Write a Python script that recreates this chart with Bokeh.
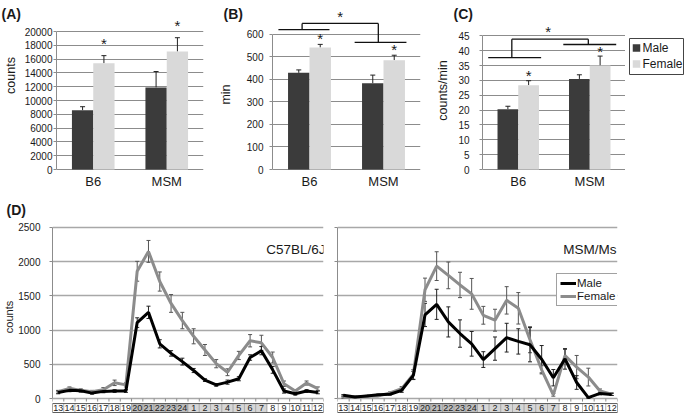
import math
from bokeh.plotting import figure
from bokeh.models import (Range1d, FactorRange, FixedTicker, Whisker, TeeHead,
                          Label, Legend, LegendItem, ColumnDataSource,
                          CustomJSTickFormatter)
from bokeh.layouts import column, row
from bokeh.embed import file_html
from bokeh.resources import INLINE
from bokeh.core.properties import value
from bokeh.transform import dodge

FONT = "Liberation Sans"
TXT = "#1a1a1a"
AX = "#8c8c8c"
MALE_BAR = "#3b3b3b"
FEMALE_BAR = "#d9d9d9"

# ---------------- data ----------------
groups = ["B6", "MSM"]
series = ["Male", "Female"]

a_male = [8600, 11900]
a_male_err = [500, 2300]
a_female = [15400, 17100]
a_female_err = [1100, 2000]
a_ticks = [0, 2000, 4000, 6000, 8000, 10000, 12000, 14000, 16000, 18000, 20000]

b_male = [428, 382]
b_male_err = [13, 36]
b_female = [540, 484]
b_female_err = [14, 22]
b_ticks = [0, 100, 200, 300, 400, 500, 600]

c_male = [20.3, 30.5]
c_male_err = [1.0, 1.4]
c_female = [28.4, 35.0]
c_female_err = [1.5, 3.2]
c_ticks = [0, 5, 10, 15, 20, 25, 30, 35, 40, 45]

hours = ["13", "14", "15", "16", "17", "18", "19", "20", "21", "22", "23", "24",
         "1", "2", "3", "4", "5", "6", "7", "8", "9", "10", "11", "12"]
d_ticks = [0, 500, 1000, 1500, 2000, 2500]

b6_male = [90, 120, 115, 80, 105, 110, 110, 1110, 1260, 800, 660, 540,
           410, 270, 200, 240, 290, 600, 700, 420, 110, 70, 110, 90]
b6_male_err = [20, 20, 20, 15, 20, 20, 20, 70, 90, 60, 40, 50,
               30, 20, 20, 30, 30, 40, 60, 50, 30, 20, 20, 20]
b6_female = [100, 150, 120, 100, 130, 230, 200, 1860, 2150, 1710, 1390, 1140,
             910, 710, 510, 385, 630, 845, 815, 600, 217, 111, 227, 145]
b6_female_err = [20, 20, 20, 20, 30, 40, 30, 145, 160, 140, 130, 120,
                 110, 80, 60, 50, 60, 90, 110, 80, 40, 20, 30, 25]

msm_male = [48, 24, 39, 55, 63, 121, 338, 1222, 1377, 1120, 950, 800,
            570, 730, 890, 835, 787, 575, 305, 580, 235, 15, 75, 60]
msm_male_err = [10, 10, 10, 10, 10, 30, 60, 170, 220, 220, 200, 180,
                115, 170, 210, 185, 250, 200, 120, 150, 100, 10, 20, 15]
msm_female = [15, 24, 34, 39, 82, 145, 353, 1590, 1935, 1800, 1660, 1530,
              1217, 1145, 1435, 1319, 860, 420, 55, 628, 460, 314, 110, 65]
msm_female_err = [10, 10, 10, 10, 15, 30, 70, 170, 210, 195, 185, 225,
                  130, 160, 200, 230, 190, 60, 20, 90, 170, 130, 30, 20]

# ---------------- geometry ----------------
TOP_H = 197             # top-row figures: frame covers the full height
ZERO_Y = 169            # pixel row of the zero line in the top row
BOT_H = 216


def bare(p):
    p.outline_line_color = None
    p.grid.visible = False


def pixel_fig(width):
    """top-row helper figure whose data units are screen pixels (y downwards)"""
    p = figure(width=width, height=TOP_H, x_range=Range1d(0, width),
               y_range=Range1d(TOP_H, 0), x_axis_location=None, y_axis_location=None,
               output_backend="svg", toolbar_location=None, min_border=0)
    bare(p)
    return p


def side_panel(width, letter, lx, ylabel, ycenter, fsize="12.5px"):
    p = pixel_fig(width)
    p.text(x=[lx], y=[5], text=[letter], text_font=value(FONT), text_font_size="14px",
           text_font_style="bold", text_color=TXT, text_align="left",
           text_baseline="top")
    p.text(x=[10], y=[ycenter], text=[ylabel], text_font=value(FONT),
           text_font_size=fsize, text_color=TXT, text_align="center",
           text_baseline="middle", angle=math.pi / 2)
    return p


def style_yaxis(p, ticks, standoff, tick_font="10px", labels=True):
    t = FixedTicker(ticks=ticks)
    p.yaxis.ticker = t
    p.ygrid.ticker = t
    p.yaxis.bounds = (ticks[0], ticks[-1])
    p.yaxis.axis_line_color = AX
    p.yaxis.major_tick_line_color = AX
    p.yaxis.major_tick_out = 3
    p.yaxis.major_tick_in = 0
    p.yaxis.minor_tick_line_color = None
    p.yaxis.major_label_text_font = FONT
    p.yaxis.major_label_text_font_size = tick_font
    p.yaxis.major_label_text_color = TXT
    p.yaxis.major_label_standoff = standoff
    if not labels:
        p.yaxis.formatter = CustomJSTickFormatter(code="return ''")


def axis_title(p, label, size, standoff):
    p.yaxis.axis_label = label
    p.yaxis.axis_label_text_font = FONT
    p.yaxis.axis_label_text_font_size = size
    p.yaxis.axis_label_text_font_style = "normal"
    p.yaxis.axis_label_text_color = TXT
    p.yaxis.axis_label_standoff = standoff


def bar_panel(male, male_err, female, female_err, ticks, px_top, width, bl, br,
              tick_standoff, star_pad, brackets=None, star_top=None, tick_labels=True):
    upp = ticks[-1] / px_top                      # data units per pixel
    p = figure(width=width, height=TOP_H, x_range=FactorRange(factors=groups),
               y_range=Range1d(-(TOP_H - ZERO_Y) * upp, ZERO_Y * upp),
               x_axis_location=None, output_backend="svg", toolbar_location=None,
               min_border_left=bl, min_border_right=br, min_border_top=0,
               min_border_bottom=0)
    p.outline_line_color = None
    p.xgrid.visible = False
    p.ygrid.grid_line_color = AX
    p.ygrid.grid_line_width = 1
    style_yaxis(p, ticks, tick_standoff, labels=tick_labels)

    src = ColumnDataSource(dict(
        g=groups, male=male, female=female,
        mu=[m + e for m, e in zip(male, male_err)],
        fu=[f + e for f, e in zip(female, female_err)],
        star=[f + e + star_pad * upp for f, e in zip(female, female_err)],
        s=["*"] * len(groups), ylab=[-11.5 * upp] * len(groups)))
    xm = dodge("g", -0.145, range=p.x_range)
    xf = dodge("g", 0.145, range=p.x_range)
    p.vbar(x=xm, top="male", width=0.29, source=src, fill_color=MALE_BAR, line_color=None)
    p.vbar(x=xf, top="female", width=0.29, source=src, fill_color=FEMALE_BAR, line_color=None)
    for base, lo, up in ((xm, "male", "mu"), (xf, "female", "fu")):
        p.add_layout(Whisker(base=base, lower=lo, upper=up, source=src, line_color="#222",
                             line_width=1, lower_head=None,
                             upper_head=TeeHead(size=5, line_color="#222", line_width=1)))
    p.text(x=xf, y="star", text="s", source=src, text_font=value(FONT),
           text_font_size="15px", text_align="center", text_baseline="middle",
           text_color=TXT)
    # category names under the zero line
    p.text(x="g", y="ylab", text="g", source=src, text_font=value(FONT),
           text_font_size="13px", text_align="center", text_baseline="middle",
           text_color=TXT)
    if brackets:
        bsrc = ColumnDataSource(dict(
            x0=[(b[0], b[1]) for b in brackets], y0=[b[2] for b in brackets],
            x1=[(b[3], b[4]) for b in brackets], y1=[b[5] for b in brackets]))
        p.segment(x0="x0", y0="y0", x1="x1", y1="y1", source=bsrc,
                  line_color="#111", line_width=1.3)
    if star_top:
        p.text(x=[star_top[0]], y=[star_top[1]], text=["*"], text_font=value(FONT),
               text_font_size="15px", text_align="center", text_baseline="middle",
               text_color=TXT)
    return p


# ---------------- top row ----------------
sA = side_panel(21, "(A)", 1, "counts", 75)
pA = bar_panel(a_male, a_male_err, a_female, a_female_err, a_ticks, 138,
               194, 33, 12, 1, 12)

sB = side_panel(28, "(B)", 8, "min", 94)
b_brackets = [("B6", -0.42, 619, "B6", 0.27, 619),
              ("B6", -0.10, 619, "B6", -0.10, 647),
              ("B6", -0.10, 647, "MSM", -0.07, 647),
              ("MSM", -0.07, 647, "MSM", -0.07, 563),
              ("MSM", -0.39, 563, "MSM", 0.31, 563)]
pB = bar_panel(b_male, b_male_err, b_female, b_female_err, b_ticks, 135.5,
               185, 27, 8, 6, 6, b_brackets, (("B6", 0.415), 677))

c_brackets = [("B6", -0.42, 37.7, "B6", 0.32, 37.7),
              ("B6", -0.09, 37.7, "B6", -0.09, 43.9),
              ("B6", -0.09, 43.9, "MSM", -0.02, 43.9),
              ("MSM", -0.02, 43.9, "MSM", -0.02, 42.1),
              ("MSM", -0.37, 42.1, "MSM", 0.37, 42.1)]
pC = bar_panel(c_male, c_male_err, c_female, c_female_err, c_ticks, 133.6,
               146, 3, 0, 0, 5, c_brackets, (("B6", 0.42), 46.4), tick_labels=False)

# panel C: letter, axis title and tick labels, sharing pC's y scale
SC_W = 51
c_upp = c_ticks[-1] / 133.6
sC = figure(width=SC_W, height=TOP_H, x_range=Range1d(0, SC_W), y_range=pC.y_range,
            x_axis_location=None, y_axis_location=None, output_backend="svg",
            toolbar_location=None, min_border=0)
bare(sC)
sC.text(x=[SC_W - 10] * len(c_ticks), y=c_ticks, text=[str(t) for t in c_ticks],
        text_font=value(FONT), text_font_size="10px", text_color=TXT,
        text_align="right", text_baseline="middle")
sC.text(x=[25], y=[(ZERO_Y - 5) * c_upp], text=["(C)"], text_font=value(FONT),
        text_font_size="14px", text_font_style="bold", text_color=TXT,
        text_align="left", text_baseline="top")
sC.text(x=[14], y=[(ZERO_Y - 90) * c_upp], text=["counts/min"], text_font=value(FONT),
        text_font_size="12.5px", text_color=TXT, text_align="center",
        text_baseline="middle", angle=math.pi / 2)

# key for panel C, drawn in a narrow pixel-unit figure to the right of the plot
pCleg = pixel_fig(59)
pCleg.quad(left=[4], right=[58], top=[38], bottom=[74], fill_color="white",
           line_color="#444", line_width=1)
pCleg.rect(x=[11, 11], y=[47.5, 63.5], width=7.5, height=7.5,
           fill_color=[MALE_BAR, FEMALE_BAR], line_color=None)
pCleg.text(x=[17, 17], y=[47.5, 63.5], text=series, text_font=value(FONT),
           text_font_size="12px", text_color=TXT, text_align="left",
           text_baseline="middle")

# ---------------- bottom row ----------------
DT = 22
DFH = BOT_H - DT
ZERO_PX = 15
PX_2500 = 172
upd = d_ticks[-1] / PX_2500
D_Y0 = -ZERO_PX * upd
D_Y1 = (DFH - ZERO_PX) * upd
STRIP_MID = -9.5 * upd
STRIP_H = 9 * upd

strip_fill = []
for h in hours:
    v = int(h)
    if 20 <= v <= 24:
        strip_fill.append("#bdbdbd")
    elif 1 <= v <= 7:
        strip_fill.append("#d6d6d6")
    else:
        strip_fill.append("#ffffff")


def d_panel(strain, male, male_err, female, female_err, width, bl, br, show_labels):
    p = figure(width=width, height=BOT_H, x_range=FactorRange(factors=hours),
               y_range=Range1d(D_Y0, D_Y1), output_backend="svg", toolbar_location=None,
               x_axis_location=None, min_border_left=bl, min_border_right=br,
               min_border_top=DT, min_border_bottom=0)
    p.outline_line_color = None
    p.xgrid.visible = False
    p.ygrid.grid_line_color = "#a8a8a8"
    p.ygrid.grid_line_width = 1.6
    if show_labels:
        style_yaxis(p, d_ticks, 9)
        axis_title(p, "counts", "11px", 0)
    else:
        style_yaxis(p, d_ticks, 0, labels=False)
    src = ColumnDataSource(dict(
        h=hours, male=male, female=female,
        ml=[m - e for m, e in zip(male, male_err)], mu=[m + e for m, e in zip(male, male_err)],
        fl=[f - e for f, e in zip(female, female_err)], fu=[f + e for f, e in zip(female, female_err)],
        fill=strip_fill, ymid=[STRIP_MID] * len(hours)))
    bnd = list(range(len(hours) + 1))
    p.segment(x0=bnd, y0=[0] * len(bnd), x1=bnd, y1=[-3 * upd] * len(bnd),
              line_color=AX, line_width=1)
    p.rect(x="h", y="ymid", width=1, height=STRIP_H, source=src, fill_color="fill",
           line_color="#9a9a9a", line_width=0.6)
    p.rect(x=[len(hours) / 2], y=[STRIP_MID], width=len(hours), height=STRIP_H,
           fill_color=None, line_color="#444", line_width=0.8)
    p.text(x="h", y="ymid", text="h", source=src, text_font=value(FONT),
           text_font_size="9px", text_align="center", text_baseline="middle",
           text_color="#222")
    rf = p.line(x="h", y="female", source=src, line_color="#8c8c8c", line_width=3)
    rm = p.line(x="h", y="male", source=src, line_color="#000000", line_width=3)
    p.add_layout(Whisker(base="h", lower="fl", upper="fu", source=src, line_color="#555",
                         line_width=1,
                         upper_head=TeeHead(size=4, line_color="#555", line_width=1),
                         lower_head=TeeHead(size=4, line_color="#555", line_width=1)))
    p.add_layout(Whisker(base="h", lower="ml", upper="mu", source=src, line_color="#222",
                         line_width=1,
                         upper_head=TeeHead(size=4, line_color="#222", line_width=1),
                         lower_head=TeeHead(size=4, line_color="#222", line_width=1)))
    fw = width - bl - br
    p.add_layout(Label(x=fw - 1, y=164, x_units="screen", y_units="screen",
                       text=strain, text_font=FONT, text_font_size="13.5px",
                       text_color=TXT, text_align="right", text_baseline="alphabetic"))
    return p, rm, rf


pDL, _, _ = d_panel("C57BL/6J", b6_male, b6_male_err, b6_female, b6_female_err,
                    330, 49, 7, True)
pDL.title.text = "(D)"
pDL.title.align = "left"
pDL.title.offset = -46
pDL.title.text_font = FONT
pDL.title.text_font_size = "14px"
pDL.title.text_font_style = "bold"
pDL.title.text_color = TXT
pDL.title.standoff = 5
pDR, dm, df = d_panel("MSM/Ms", msm_male, msm_male_err, msm_female, msm_female_err,
                      354, 7, 67, False)
legD = Legend(items=[LegendItem(label=series[0], renderers=[dm]),
                     LegendItem(label=series[1], renderers=[df])],
              location=(219, 107), label_text_font=FONT, label_text_font_size="11.5px",
              label_text_color=TXT, glyph_width=16, glyph_height=12, label_standoff=1,
              padding=3, spacing=1, margin=0, border_line_color="#444",
              border_line_width=1, background_fill_alpha=1)
pDR.add_layout(legD)

layout = column(row(sA, pA, sB, pB, sC, pC, pCleg, spacing=0),
                row(pDL, pDR, spacing=0), spacing=0)
open("out.html", "w").write(file_html(layout, INLINE))
